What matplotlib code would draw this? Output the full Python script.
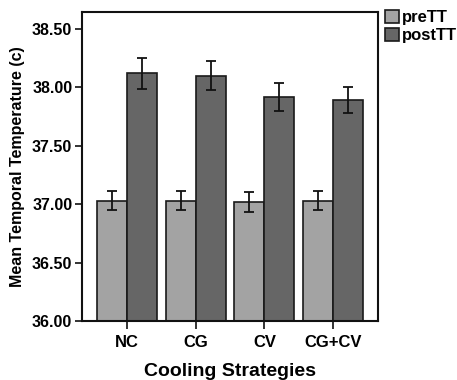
import matplotlib
matplotlib.use("Agg")
import matplotlib.pyplot as plt
import numpy as np
from matplotlib.patches import Patch

categories = ["NC", "CG", "CV", "CG+CV"]
pre_vals = [37.03, 37.03, 37.02, 37.03]
pre_err = [0.08, 0.08, 0.085, 0.08]
post_vals = [38.12, 38.10, 37.92, 37.89]
post_err = [0.13, 0.125, 0.12, 0.11]
series = ["preTT", "postTT"]
yticks = [36.0, 36.5, 37.0, 37.5, 38.0, 38.5]

plt.rcParams['font.family'] = ['Liberation Sans', 'DejaVu Sans']
plt.rcParams['font.weight'] = 'bold'

fig = plt.figure(figsize=(4.57, 3.80), dpi=100)
ax = fig.add_axes([82/457, 1-321/380, (378-82)/457, (321-12)/380])

x = np.arange(len(categories))
w = 0.435
c_pre = "#a3a3a3"
c_post = "#666666"
ax.bar(x - w/2, pre_vals, w, color=c_pre, edgecolor="#1a1a1a", linewidth=1.2, zorder=2)
ax.bar(x + w/2, post_vals, w, color=c_post, edgecolor="#1a1a1a", linewidth=1.2, zorder=2)
ax.errorbar(x - w/2, pre_vals, yerr=pre_err, fmt='none', ecolor='#111111', elinewidth=1.3, capsize=3.5, capthick=1.3, zorder=3)
ax.errorbar(x + w/2, post_vals, yerr=post_err, fmt='none', ecolor='#111111', elinewidth=1.3, capsize=3.5, capthick=1.3, zorder=3)

ax.set_ylim(36.0, 38.645)
ax.set_xlim(-0.65, 3.65)
ax.set_yticks(yticks)
ax.set_yticklabels([f"{v:.2f}" for v in yticks], fontsize=11.5, fontweight='bold')
ax.set_xticks(x)
ax.set_xticklabels(categories, fontsize=12, fontweight='bold')
ax.tick_params(axis='y', length=5, width=1.2, color='#111111', pad=2)
ax.tick_params(axis='x', length=6, width=1.2, color='#111111', pad=4)
for s in ax.spines.values():
    s.set_linewidth(1.5)
    s.set_color('#111111')

ax.set_ylabel("Mean Temporal Temperature (c)", fontsize=11.5, fontweight='bold', labelpad=5)
fig.text((82 + 378) / 2 / 457, 1 - 376/380, "Cooling Strategies", fontsize=14, fontweight='bold',
         ha='center', va='baseline')

handles = [Patch(facecolor=c_pre, edgecolor='#1a1a1a', linewidth=1.2),
           Patch(facecolor=c_post, edgecolor='#1a1a1a', linewidth=1.2)]
fig.legend(handles, series, loc='upper left', bbox_to_anchor=(385/457, 1-10/380),
           frameon=False, prop={'weight': 'bold', 'size': 12},
           handlelength=0.85, handleheight=0.85, handletextpad=0.15, labelspacing=0.15,
           borderaxespad=0, borderpad=0)

fig.savefig("out.png", dpi=100)
